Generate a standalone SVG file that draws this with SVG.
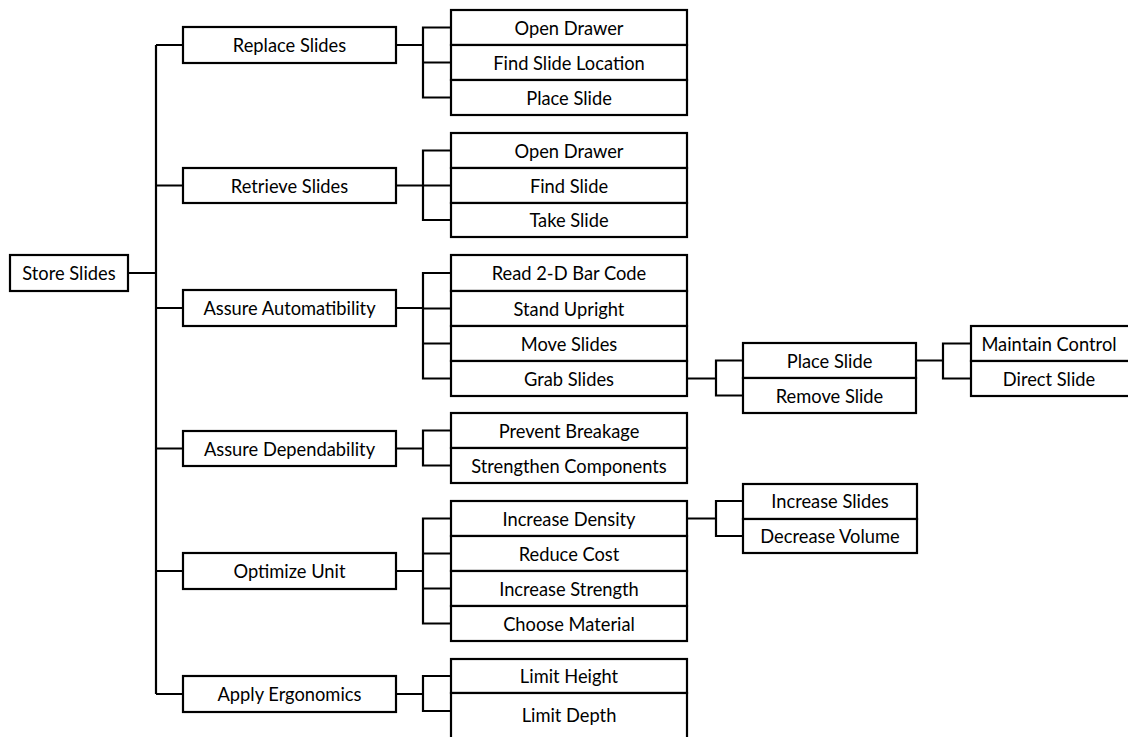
<svg xmlns="http://www.w3.org/2000/svg" width="1128" height="737" viewBox="0 0 1128 737">
<style>
.b{fill:#fff;stroke:#000;stroke-width:2.2}
.t{font-family:Lato,"Liberation Sans",sans-serif;font-size:18.3px;fill:#000;text-anchor:middle;dominant-baseline:central}
.c{fill:none;stroke:#000;stroke-width:2.2}
</style>
<rect width="1128" height="737" fill="#fff"/>
<g id="connectors" class="c">
<path d="M128 273H156M156 45V694M156 45H183M156 185.5H183M156 308H183M156 448.5H183M156 571H183M156 694H183"/>
<path d="M396 45H423M451 27.5H423V97.5H451M423 62.5H451"/>
<path d="M396 185.5H423M451 150.5H423V220H451M423 185.5H451"/>
<path d="M396 308H423M451 273H423V378.5H451M423 308.5H451M423 343.5H451"/>
<path d="M396 448.5H423M451 430.5H423V465.5H451"/>
<path d="M396 571H423M451 518.5H423V623.5H451M423 553.5H451M423 588.5H451"/>
<path d="M396 694H423M451 676H423V711H451"/>
<path d="M687 378.5H716M743 360.5H716V395.5H743"/>
<path d="M916 360.5H943M971 343.5H943V378.5H971"/>
<path d="M687 518.5H716M743 501H716V536H743"/>
</g>
<g id="store"><rect class="b" x="10" y="255" width="118" height="36"/><text class="t" x="69" y="273">Store Slides</text></g>
<g id="replace"><rect class="b" x="183" y="27" width="213" height="36"/><text class="t" x="289.5" y="45">Replace Slides</text></g>
<g id="retrieve"><rect class="b" x="183" y="168" width="213" height="35"/><text class="t" x="289.5" y="185.5">Retrieve Slides</text></g>
<g id="automat"><rect class="b" x="183" y="290" width="213" height="36"/><text class="t" x="289.5" y="308">Assure Automatibility</text></g>
<g id="depend"><rect class="b" x="183" y="431" width="213" height="35"/><text class="t" x="289.5" y="448.5">Assure Dependability</text></g>
<g id="optimize"><rect class="b" x="183" y="553" width="213" height="36"/><text class="t" x="289.5" y="571">Optimize Unit</text></g>
<g id="ergo"><rect class="b" x="183" y="676" width="213" height="36"/><text class="t" x="289.5" y="694">Apply Ergonomics</text></g>

<g id="r-open"><rect class="b" x="451" y="10" width="236" height="35"/><text class="t" x="569" y="27.5">Open Drawer</text></g>
<g id="r-find"><rect class="b" x="451" y="45" width="236" height="35"/><text class="t" x="569" y="62.5">Find Slide Location</text></g>
<g id="r-place"><rect class="b" x="451" y="80" width="236" height="35"/><text class="t" x="569" y="97.5">Place Slide</text></g>

<g id="t-open"><rect class="b" x="451" y="133" width="236" height="35"/><text class="t" x="569" y="150.5">Open Drawer</text></g>
<g id="t-find"><rect class="b" x="451" y="168" width="236" height="35"/><text class="t" x="569" y="185.5">Find Slide</text></g>
<g id="t-take"><rect class="b" x="451" y="203" width="236" height="34"/><text class="t" x="569" y="220">Take Slide</text></g>

<g id="a-read"><rect class="b" x="451" y="255" width="236" height="36"/><text class="t" x="569" y="273">Read 2-D Bar Code</text></g>
<g id="a-stand"><rect class="b" x="451" y="291" width="236" height="35"/><text class="t" x="569" y="308.5">Stand Upright</text></g>
<g id="a-move"><rect class="b" x="451" y="326" width="236" height="35"/><text class="t" x="569" y="343.5">Move Slides</text></g>
<g id="a-grab"><rect class="b" x="451" y="361" width="236" height="35"/><text class="t" x="569" y="378.5">Grab Slides</text></g>

<g id="d-prevent"><rect class="b" x="451" y="413" width="236" height="35"/><text class="t" x="569" y="430.5">Prevent Breakage</text></g>
<g id="d-strength"><rect class="b" x="451" y="448" width="236" height="35"/><text class="t" x="569" y="465.5">Strengthen Components</text></g>

<g id="o-density"><rect class="b" x="451" y="501" width="236" height="35"/><text class="t" x="569" y="518.5">Increase Density</text></g>
<g id="o-cost"><rect class="b" x="451" y="536" width="236" height="35"/><text class="t" x="569" y="553.5">Reduce Cost</text></g>
<g id="o-strength"><rect class="b" x="451" y="571" width="236" height="35"/><text class="t" x="569" y="588.5">Increase Strength</text></g>
<g id="o-material"><rect class="b" x="451" y="606" width="236" height="35"/><text class="t" x="569" y="623.5">Choose Material</text></g>

<g id="e-height"><rect class="b" x="451" y="659" width="236" height="34"/><text class="t" x="569" y="676">Limit Height</text></g>
<g id="e-depth"><rect class="b" x="451" y="693" width="236" height="50"/><text class="t" x="569" y="715">Limit Depth</text></g>

<g id="g-place"><rect class="b" x="743" y="343" width="173" height="35"/><text class="t" x="829.5" y="360.5">Place Slide</text></g>
<g id="g-remove"><rect class="b" x="743" y="378" width="173" height="35"/><text class="t" x="829.5" y="395.5">Remove Slide</text></g>

<g id="p-maintain"><rect class="b" x="971" y="326" width="170" height="35"/><text class="t" x="1049" y="343.5">Maintain Control</text></g>
<g id="p-direct"><rect class="b" x="971" y="361" width="170" height="35"/><text class="t" x="1049" y="378.5">Direct Slide</text></g>

<g id="i-slides"><rect class="b" x="743" y="484" width="174" height="35"/><text class="t" x="830" y="501">Increase Slides</text></g>
<g id="i-volume"><rect class="b" x="743" y="519" width="174" height="34"/><text class="t" x="830" y="536">Decrease Volume</text></g>
</svg>
